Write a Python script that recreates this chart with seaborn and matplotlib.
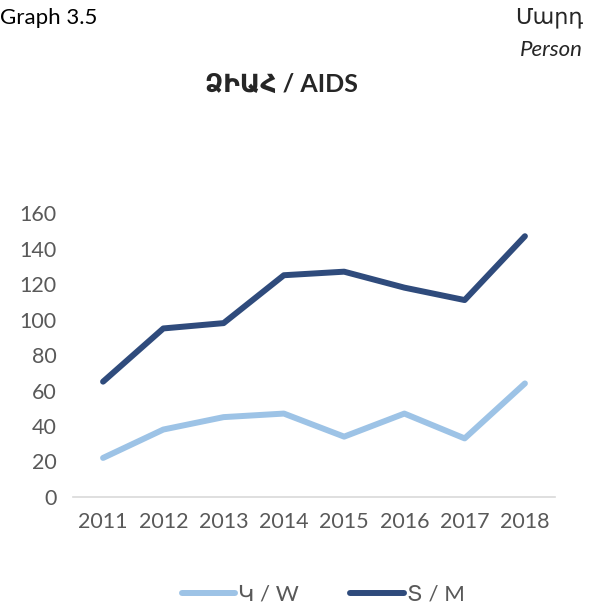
import pandas as pd
import matplotlib
matplotlib.use('Agg')
import matplotlib.pyplot as plt
import seaborn as sns

years = [2011, 2012, 2013, 2014, 2015, 2016, 2017, 2018]
women = [22, 38, 45, 47, 34, 47, 33, 64]
men = [65, 95, 98, 125, 127, 118, 111, 147]
series_labels = ["Կ / W", "Տ / M"]
y_ticks = [0, 20, 40, 60, 80, 100, 120, 140, 160]

FONT = ['Lato', 'DejaVu Sans']


def build_frame():
    df_w = pd.DataFrame({"Year": years, "Count": women, "Sex": series_labels[0]})
    df_m = pd.DataFrame({"Year": years, "Count": men, "Sex": series_labels[1]})
    return pd.concat([df_w, df_m], ignore_index=True)


def draw_chart():
    sns.set_style("white")
    plt.rcParams['font.family'] = FONT
    df = build_frame()

    fig = plt.figure(figsize=(5.93, 6.09), dpi=100)
    ax = fig.add_axes([0.123, 0.184, 0.813, 0.466])

    palette = {series_labels[0]: "#9dc3e6", series_labels[1]: "#2f4b7c"}
    sns.lineplot(data=df, x="Year", y="Count", hue="Sex", palette=palette,
                 linewidth=4.3, solid_capstyle='round', ax=ax, legend=False)

    ax.set_xlim(2010.5, 2018.5)
    ax.set_ylim(0, 160)
    ax.set_xticks(years)
    ax.set_yticks(y_ticks)
    ax.set_xlabel("")
    ax.set_ylabel("")
    ax.tick_params(axis='both', length=0, labelsize=15.5, colors="#595959")
    ax.tick_params(axis='x', pad=11)
    ax.tick_params(axis='y', pad=12)
    for side in ["top", "right", "left"]:
        ax.spines[side].set_visible(False)
    ax.spines["bottom"].set_color("#d9d9d9")
    ax.spines["bottom"].set_linewidth(1.2)

    handles = [plt.Line2D([], [], color=palette[s], linewidth=4.3, solid_capstyle='round')
               for s in series_labels]
    fig.legend(handles, series_labels, loc='center', bbox_to_anchor=(0.545, 0.024),
               ncol=2, frameon=False, fontsize=16, handlelength=2.4, handletextpad=0.15,
               columnspacing=2.3, labelcolor="#595959")

    fig.text(0.0, 0.971, "Graph 3.5", fontsize=16, ha='left', va='center', color="#000000")
    fig.text(0.983, 0.971, "Մարդ", fontsize=16, ha='right', va='center')
    fig.text(0.983, 0.918, "Person", fontsize=16, ha='right', va='center', style='italic')
    fig.text(0.475, 0.861, "ՁԻԱՀ / AIDS", fontsize=18, ha='center', va='center', fontweight='bold')

    fig.savefig("out.png", dpi=100)
    plt.close(fig)


if __name__ == "__main__":
    draw_chart()
